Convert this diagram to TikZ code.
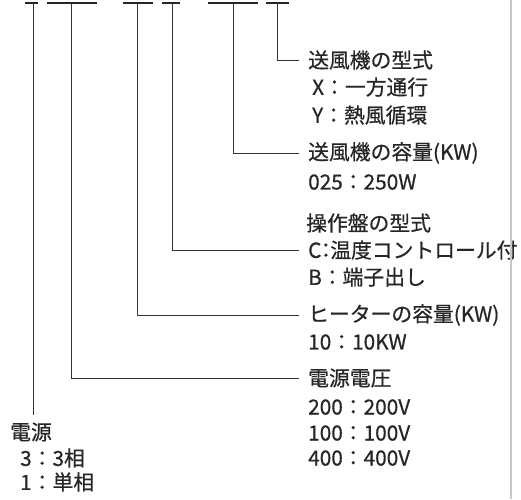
\documentclass[tikz,border=0pt]{standalone}
\usepackage{fontspec}
\setmainfont{Noto Sans CJK JP}[FakeBold=0.6]
\usetikzlibrary{positioning}

\begin{document}
\begin{tikzpicture}[x=1pt, y=-1pt,
    bar/.style={line width=2.3pt, black!85},
    lead/.style={line width=1pt, black!80, shorten >=9pt},
    lbl/.style={anchor=west, inner sep=0pt, text=black!85, font=\fontsize{20.8}{24}\selectfont}]
    \useasboundingbox (0,0) rectangle (521,499);

    % code bars
    \draw[bar] (25,3) -- (38,3);
    \draw[bar] (47,3) -- (97,3);
    \draw[bar] (123,3) -- (153,3);
    \draw[bar] (162,3) -- (180,3);
    \draw[bar] (208,3) -- (258,3);
    \draw[bar] (266,3) -- (289,3);
    \coordinate (cPhase) at (33,3);
    \coordinate (cVolt) at (71,3);
    \coordinate (cHeat) at (137,3);
    \coordinate (cPanel) at (172,3);
    \coordinate (cFanCap) at (233,3);
    \coordinate (cFanType) at (277,3);

    % fan type
    \node[lbl] (fanType) at (308,60) {送風機の型式};
    \node[lbl] (fanX) at (312,87) {X：一方通行};
    \node[lbl] (fanY) at (312,115) {Y：熱風循環};

    % fan capacity
    \node[lbl] (fanCap) at (308,153) {送風機の容量(KW)};
    \node[lbl] (fanCap1) at (308,182) {025：250W};

    % panel type
    \node[lbl] (panel) at (306,223) {操作盤の型式};
    \node[lbl] (panelC) at (308,250) {C\kern-6pt：\kern-6pt温度コントロール付};
    \node[lbl] (panelB) at (308,277) {B：端子出し};

    % heater capacity
    \node[lbl] (heat) at (308,315) {ヒーターの容量(KW)};
    \node[lbl] (heat1) at (308,342) {10：10KW};

    % supply voltage
    \node[lbl] (volt) at (308,378) {電源電圧};
    \node[lbl] (volt1) at (308,407) {200：200V};
    \node[lbl] (volt2) at (308,433) {100：100V};
    \node[lbl] (volt3) at (308,458) {400：400V};

    % phase
    \node[lbl] (phase) at (10,432) {電源};
    \node[lbl] (phase1) at (20,458) {3：3相};
    \node[lbl] (phase2) at (20,482) {1：単相};

    % leaders
    \draw[lead] (cFanType) |- (fanType.west);
    \draw[lead] (cFanCap) |- (fanCap.west);
    \draw[lead] (cPanel) |- (panelC.west);
    \draw[lead] (cHeat) |- (heat.west);
    \draw[lead] (cVolt) |- (volt.west);
    \draw[lead, shorten >=7pt] (cPhase) -- (phase.north -| cPhase);

    % page edge
    \draw[black!22, line width=1.5pt] (511,0) -- (511,499);
\end{tikzpicture}
\end{document}
